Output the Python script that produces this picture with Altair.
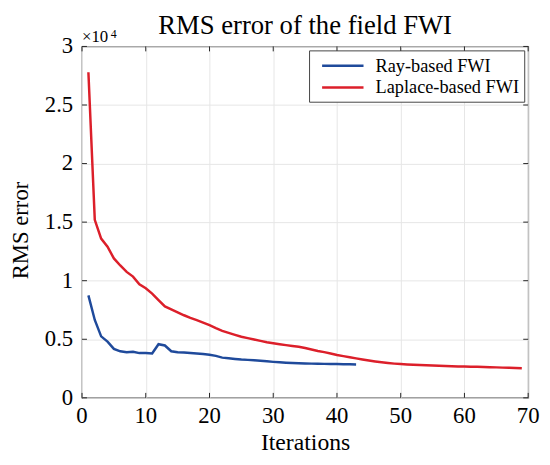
import altair as alt
import pandas as pd

# ---- data (values in units of 10^4) ----
series_names = ["Ray-based FWI", "Laplace-based FWI"]
series_colors = ["#1f4a9b", "#dc1f2a"]

iter_ray = list(range(1, 44))
rms_ray = [0.875, 0.665, 0.525, 0.480, 0.418, 0.397, 0.390, 0.393, 0.382, 0.382,
           0.378, 0.458, 0.447, 0.398, 0.390, 0.387, 0.382, 0.378, 0.374, 0.368,
           0.358, 0.343, 0.338, 0.332, 0.327, 0.324, 0.320, 0.316, 0.312, 0.307,
           0.303, 0.300, 0.297, 0.295, 0.293, 0.292, 0.291, 0.290, 0.289, 0.288,
           0.287, 0.286, 0.285]

iter_lap = list(range(1, 70))
rms_lap = [2.780, 1.520, 1.360, 1.290, 1.190, 1.130, 1.075, 1.035, 0.970, 0.935,
           0.890, 0.835, 0.780, 0.755, 0.730, 0.705, 0.683, 0.663, 0.642, 0.620,
           0.595, 0.572, 0.555, 0.538, 0.522, 0.510, 0.498, 0.486, 0.475, 0.466,
           0.458, 0.450, 0.443, 0.436, 0.425, 0.413, 0.400, 0.390, 0.378, 0.366,
           0.356, 0.347, 0.337, 0.327, 0.318, 0.310, 0.303, 0.297, 0.292, 0.288,
           0.285, 0.282, 0.280, 0.278, 0.276, 0.274, 0.272, 0.270, 0.268, 0.267,
           0.266, 0.265, 0.263, 0.262, 0.260, 0.258, 0.256, 0.254, 0.252]

x_ticks = [0, 10, 20, 30, 40, 50, 60, 70]
x_tick_labels = ["0", "10", "20", "30", "40", "50", "60", "70"]
y_ticks = [0, 0.5, 1, 1.5, 2, 2.5, 3]
y_tick_labels = ["0", "0.5", "1", "1.5", "2", "2.5", "3"]

chart_title = "RMS error of the field FWI"

df = pd.concat([
    pd.DataFrame({"iter": iter_ray, "rms": rms_ray, "series": series_names[0]}),
    pd.DataFrame({"iter": iter_lap, "rms": rms_lap, "series": series_names[1]}),
], ignore_index=True)

df_xt = pd.DataFrame({"iter": x_ticks, "lab": x_tick_labels})
df_yt = pd.DataFrame({"rms": y_ticks, "lab": y_tick_labels})

FONT = "Liberation Serif"
W, H = 452, 356
TICK = 5
AX = "#262626"

xs = alt.Scale(domain=[0, 70], nice=False, zero=False)
ys = alt.Scale(domain=[0, 3], nice=False)

x_axis = alt.Axis(values=x_ticks, title="Iterations", labels=False,
                  titleY=52, titleBaseline="alphabetic")
y_axis = alt.Axis(values=y_ticks, title="RMS error", labels=False,
                  titleAngle=270, titleX=-55, titleY=186,
                  titleBaseline="alphabetic", titleAlign="center")

lines = alt.Chart(df).mark_line(strokeWidth=2.5, clip=True).encode(
    x=alt.X("iter:Q", scale=xs, axis=x_axis),
    y=alt.Y("rms:Q", scale=ys, axis=y_axis),
    color=alt.Color("series:N", scale=alt.Scale(domain=series_names, range=series_colors),
                    legend=alt.Legend(title=None, orient="top-right", offset=4)),
)

tick_b = alt.Chart(df_xt).mark_rule(color=AX, strokeWidth=1).encode(
    x=alt.X("iter:Q", scale=xs, axis=x_axis), y=alt.value(H), y2=alt.value(H - TICK))
tick_t = alt.Chart(df_xt).mark_rule(color=AX, strokeWidth=1).encode(
    x=alt.X("iter:Q", scale=xs, axis=x_axis), y=alt.value(0), y2=alt.value(TICK))
tick_l = alt.Chart(df_yt).mark_rule(color=AX, strokeWidth=1).encode(
    y=alt.Y("rms:Q", scale=ys, axis=y_axis), x=alt.value(0), x2=alt.value(TICK))
tick_r = alt.Chart(df_yt).mark_rule(color=AX, strokeWidth=1).encode(
    y=alt.Y("rms:Q", scale=ys, axis=y_axis), x=alt.value(W), x2=alt.value(W - TICK))

xlab = alt.Chart(df_xt).mark_text(
    font=FONT, fontSize=23, align="center", baseline="top", color="black"
).encode(x=alt.X("iter:Q", scale=xs, axis=x_axis), y=alt.value(H + 7), text="lab:N")
ylab = alt.Chart(df_yt).mark_text(
    font=FONT, fontSize=23, align="right", baseline="middle", color="black"
).encode(y=alt.Y("rms:Q", scale=ys, axis=y_axis), x=alt.value(-9), text="lab:N")

title_txt = alt.Chart(pd.DataFrame({"t": [chart_title]})).mark_text(
    font=FONT, fontSize=27, align="center", baseline="alphabetic", color="black"
).encode(text="t:N", x=alt.value(W / 2), y=alt.value(-13))

exp_base = alt.Chart(pd.DataFrame({"t": ["×10"]})).mark_text(
    font=FONT, fontSize=17, align="left", baseline="alphabetic", color="black"
).encode(text="t:N", x=alt.value(0), y=alt.value(-4))
exp_sup = alt.Chart(pd.DataFrame({"t": ["4"]})).mark_text(
    font=FONT, fontSize=12, align="left", baseline="alphabetic", color="black"
).encode(text="t:N", x=alt.value(29), y=alt.value(-9))

chart = alt.layer(lines, tick_b, tick_t, tick_l, tick_r, xlab, ylab,
                  title_txt, exp_base, exp_sup).properties(
    width=W, height=H,
    autosize=alt.AutoSizeParams(type="none"),
    padding={"left": 75, "top": 36, "right": 14, "bottom": 57},
).configure_view(
    stroke=AX, strokeWidth=1.2
).configure_axis(
    grid=True, ticks=False, tickSize=0, domain=False,
    titleFont=FONT, titleFontSize=24, titleFontWeight="normal", titleColor="black",
    gridColor="#e6e6e6", gridWidth=1,
).configure_axisY(
    titleFontSize=23,
).configure_legend(
    labelFont=FONT, labelFontSize=18.5, labelColor="black",
    symbolType="M-2.33,0L2.33,0", symbolSize=324, symbolStrokeWidth=2.5,
    strokeColor="#444", fillColor="white", padding=5, cornerRadius=0,
    labelOffset=22.7, rowPadding=2, symbolOffset=18.7, labelLimit=400,
)

chart.save("out.html", embed_options={"renderer": "svg", "actions": False})
